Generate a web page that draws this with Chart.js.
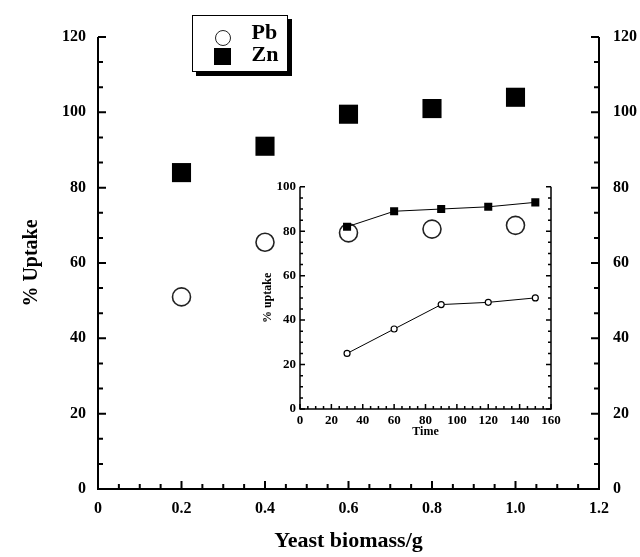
<!DOCTYPE html>
<html lang="en">
<head>
  <meta charset="UTF-8" />
  <title>% Uptake vs yeast biomass</title>
  <script src="https://cdn.jsdelivr.net/npm/chart.js"></script>
  <style>
    html, body { margin: 0; padding: 0; background: #fff; }
    .wrap { position: relative; width: 640px; height: 557px; }
    #mainChart { position: absolute; left: 0; top: 0; }
    #insetChart { position: absolute; left: 248px; top: 175px; }
    .legend {
      position: absolute; left: 192px; top: 15px; width: 94px; height: 55px;
      border: 1.5px solid #000; box-shadow: 4px 4px 0 #000; background: #fff;
      font: bold 22px 'Liberation Serif', serif;
    }
    .legend .mk { position: absolute; box-sizing: border-box; }
    .legend .mk.circle { left: 21.5px; top: 13.5px; width: 16px; height: 16px; border: 1.5px solid #222; border-radius: 50%; background: #fff; }
    .legend .mk.square { left: 21px; top: 32px; width: 17px; height: 17px; background: #000; }
    .legend .txt { position: absolute; left: 58.5px; line-height: 22px; }
  </style>
</head>
<body>
  <div class="wrap">
    <canvas id="mainChart" width="640" height="557"></canvas>
    <canvas id="insetChart" width="320" height="270"></canvas>
    <div class="legend" id="legend"></div>
  </div>

  <script>
    // main chart data
    const biomass = [0.2, 0.4, 0.6, 0.8, 1.0];
    const pbUptake = [51, 65.5, 68, 69, 70];
    const znUptake = [84, 91, 99.5, 101, 104];
    const seriesNames = ['Pb', 'Zn'];

    // inset data
    const time = [30, 60, 90, 120, 150];
    const pbTime = [25, 36, 47, 48, 50];
    const znTime = [82, 89, 90, 91, 93];

    const serif = "'Liberation Serif', 'Times New Roman', serif";

    const pts = (xs, ys) => xs.map((x, i) => ({ x, y: ys[i] }));

    // inward ticks + 3-sided frame (no top line)
    const frameTicks = {
      id: 'frameTicks',
      beforeDatasetsDraw(chart, args, o) {
        const { ctx, chartArea: a, scales } = chart;
        const xs = scales.x, ys = scales.y;
        ctx.save();
        ctx.strokeStyle = '#000';
        ctx.lineWidth = o.lineWidth;
        ctx.beginPath();
        ctx.moveTo(a.left, a.top);
        ctx.lineTo(a.left, a.bottom);
        ctx.lineTo(a.right, a.bottom);
        ctx.lineTo(a.right, a.top);
        ctx.stroke();

        ctx.beginPath();
        const nx = Math.round((xs.max - xs.min) / o.xMinor);
        for (let i = 0; i <= nx; i++) {
          const v = xs.min + i * o.xMinor;
          const r = v / o.xMajor;
          const len = Math.abs(r - Math.round(r)) < 1e-6 ? o.major : o.minor;
          const px = xs.getPixelForValue(v);
          ctx.moveTo(px, a.bottom);
          ctx.lineTo(px, a.bottom - len);
        }
        const ny = Math.round((ys.max - ys.min) / o.yMinor);
        for (let i = 0; i <= ny; i++) {
          const v = ys.min + i * o.yMinor;
          const r = v / o.yMajor;
          const len = Math.abs(r - Math.round(r)) < 1e-6 ? o.major : o.minor;
          const py = ys.getPixelForValue(v);
          ctx.moveTo(a.left, py);
          ctx.lineTo(a.left + len, py);
          ctx.moveTo(a.right, py);
          ctx.lineTo(a.right - len, py);
        }
        ctx.stroke();
        ctx.restore();
      }
    };

    new Chart(document.getElementById('mainChart'), {
      type: 'scatter',
      data: {
        datasets: [
          {
            label: seriesNames[0],
            data: pts(biomass, pbUptake),
            pointStyle: 'circle',
            pointRadius: 9,
            pointBackgroundColor: '#fff',
            pointBorderColor: '#222',
            pointBorderWidth: 1.6
          },
          {
            label: seriesNames[1],
            data: pts(biomass, znUptake),
            pointStyle: 'rect',
            pointRadius: 13.5,
            pointBackgroundColor: '#000',
            pointBorderColor: '#000',
            pointBorderWidth: 0
          }
        ]
      },
      options: {
        responsive: false,
        animation: false,
        events: [],
        layout: { padding: { top: 37, left: 0, right: 0, bottom: 0 } },
        plugins: {
          legend: { display: false },
          tooltip: { enabled: false },
          frameTicks: { lineWidth: 2, major: 8, minor: 5, xMinor: 0.05, xMajor: 0.2, yMinor: 20 / 3, yMajor: 20 }
        },
        scales: {
          x: {
            type: 'linear', min: 0, max: 1.2,
            grid: { display: false, drawTicks: false },
            border: { display: false },
            ticks: { stepSize: 0.2, padding: 10, color: '#000', font: { family: serif, size: 16, weight: 'bold' } },
            title: { display: true, text: 'Yeast biomass/g', color: '#000', padding: { top: 0, bottom: 2 }, font: { family: serif, size: 22, weight: 'bold' } },
            afterFit: s => { s.height = 68; }
          },
          y: {
            position: 'left', min: 0, max: 120,
            grid: { display: false, drawTicks: false },
            border: { display: false },
            ticks: { stepSize: 20, padding: 12, color: '#000', font: { family: serif, size: 16, weight: 'bold' } },
            title: { display: true, text: '% Uptake', color: '#000', padding: { top: 20, bottom: 0 }, font: { family: serif, size: 20, weight: 'bold' } },
            afterFit: s => { s.width = 98; }
          },
          y2: {
            position: 'right', min: 0, max: 120,
            grid: { display: false, drawTicks: false },
            border: { display: false },
            ticks: { stepSize: 20, padding: 14, color: '#000', font: { family: serif, size: 16, weight: 'bold' } },
            afterFit: s => { s.width = 41; }
          }
        }
      },
      plugins: [frameTicks]
    });

    new Chart(document.getElementById('insetChart'), {
      type: 'scatter',
      data: {
        datasets: [
          {
            label: seriesNames[1],
            data: pts(time, znTime),
            showLine: true,
            borderColor: '#000',
            borderWidth: 1,
            pointStyle: 'rect',
            pointRadius: 5.7,
            pointBackgroundColor: '#000',
            pointBorderColor: '#000',
            pointBorderWidth: 0
          },
          {
            label: seriesNames[0],
            data: pts(time, pbTime),
            showLine: true,
            borderColor: '#000',
            borderWidth: 1,
            pointStyle: 'circle',
            pointRadius: 3,
            pointBackgroundColor: '#fff',
            pointBorderColor: '#000',
            pointBorderWidth: 1.2
          }
        ]
      },
      options: {
        responsive: false,
        animation: false,
        events: [],
        layout: { padding: { top: 8, left: 0, right: 17, bottom: 0 } },
        plugins: {
          legend: { display: false },
          tooltip: { enabled: false },
          frameTicks: { lineWidth: 1.5, major: 5, minor: 3, xMinor: 5, xMajor: 20, yMinor: 5, yMajor: 20 }
        },
        scales: {
          x: {
            type: 'linear', min: 0, max: 160,
            grid: { display: false, drawTicks: false },
            border: { display: false },
            ticks: { stepSize: 20, padding: 4, color: '#000', maxRotation: 0, autoSkip: false, font: { family: serif, size: 13, weight: 'bold' } },
            title: { display: true, text: 'Time', color: '#000', padding: { top: 0, bottom: 6 }, font: { family: serif, size: 12, weight: 'bold' } },
            afterFit: s => { s.height = 36; }
          },
          y: {
            min: 0, max: 100,
            grid: { display: false, drawTicks: false },
            border: { display: false },
            ticks: { stepSize: 20, padding: 4, color: '#000', font: { family: serif, size: 13, weight: 'bold' } },
            title: { display: true, text: '% uptake', color: '#000', padding: { top: 13, bottom: 0 }, font: { family: serif, size: 12, weight: 'bold' } },
            afterFit: s => { s.width = 52; }
          }
        }
      },
      plugins: [frameTicks]
    });

    // legend
    const legend = document.getElementById('legend');
    const markers = ['circle', 'square'];
    const textTops = [4.7, 26.7];
    seriesNames.forEach((name, i) => {
      const mk = document.createElement('span');
      mk.className = 'mk ' + markers[i];
      legend.appendChild(mk);
      const txt = document.createElement('span');
      txt.className = 'txt';
      txt.style.top = textTops[i] + 'px';
      txt.textContent = name;
      legend.appendChild(txt);
    });
  </script>
</body>
</html>
